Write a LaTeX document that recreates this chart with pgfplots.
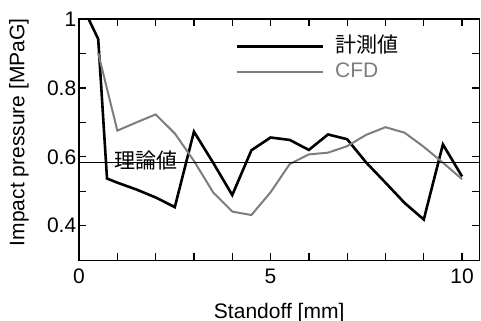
\documentclass[border=0pt]{standalone}
\usepackage{pgfplots}
\pgfplotsset{compat=1.18}
\usepackage{fontspec}
\setmainfont{Liberation Sans}
\newfontfamily\cjk{Noto Sans CJK JP}
\definecolor{cfdgray}{RGB}{125,125,125}
\begin{document}
\begin{tikzpicture}
\begin{axis}[
  name=ax,
  scale only axis,
  width=200pt, height=120.5pt,
  xmin=0, xmax=10.45, ymin=0.3, ymax=1.0,
  axis line style={line width=0.65pt},
  tick align=inside, tick pos=both,
  major tick length=3.5pt,
  tick style={black, line width=0.65pt},
  xtick={0,1,...,10},
  xticklabels={0,,,,,5,,,,,10},
  ytick={0.4,0.5,0.6,0.7,0.8,0.9,1.0},
  yticklabels={0.4,,0.6,,0.8,,1},
  font=\fontsize{10.5}{12}\selectfont,
  yticklabel style={inner sep=0pt, xshift=-1.2pt},
  xticklabel style={inner sep=0pt, yshift=-4.3pt},
  xlabel={Standoff [mm]},
  ylabel={Impact pressure [MPaG]},
  xlabel style={at={(axis description cs:0.5,-0.22)}, anchor=center},
  ylabel style={at={(axis description cs:-0.15,0.53)}, anchor=center},
  legend style={draw=none, fill=none, at={(axis description cs:0.39,0.833)}, anchor=west,
    inner sep=0pt, row sep=1.5pt, column sep=4.5pt,
    nodes={inner sep=1pt, text height=7.5pt, text depth=1.5pt},
    font=\fontsize{10.5}{12}\selectfont},
  legend cell align=left,
  legend image code/.code={\draw[#1] (0pt,0pt) -- (43pt,0pt);},
  clip=true,
]
\addplot[black, line width=1.3pt] coordinates {
(0.25,1.0) (0.5,0.942) (0.73,0.537) (1.0,0.525) (1.5,0.505) (2.0,0.482) (2.5,0.454)
(3.0,0.673) (3.5,0.583) (4.0,0.489) (4.5,0.619) (5.0,0.656) (5.5,0.649) (6.0,0.62)
(6.5,0.665) (7.0,0.651) (7.5,0.583) (8.0,0.525) (8.5,0.466) (9.0,0.418) (9.5,0.636) (10.0,0.543)
};
\addlegendentry{\cjk 計測値}
\addplot[cfdgray, line width=1.0pt] coordinates {
(0.5,0.901) (1.0,0.676) (1.5,0.70) (2.0,0.723) (2.5,0.668) (3.0,0.588) (3.5,0.497)
(4.0,0.441) (4.5,0.431) (5.0,0.497) (5.5,0.579) (6.0,0.607) (6.5,0.612) (7.0,0.631)
(7.5,0.664) (8.0,0.686) (8.5,0.67) (9.0,0.629) (9.5,0.583) (10.0,0.535)
};
\addlegendentry{\textcolor{cfdgray}{CFD}}
\addplot[black, line width=0.65pt, forget plot] coordinates {(0,0.583) (10.45,0.583)};
\node[font=\cjk\fontsize{10.5}{12}\selectfont] at (axis cs:1.75,0.588) {理論値};
\end{axis}
\pgfresetboundingbox
\path ([shift={(-39.5pt,-30pt)}]ax.south west) rectangle ([shift={(0.85pt,9.5pt)}]ax.north east);
\end{tikzpicture}
\end{document}
